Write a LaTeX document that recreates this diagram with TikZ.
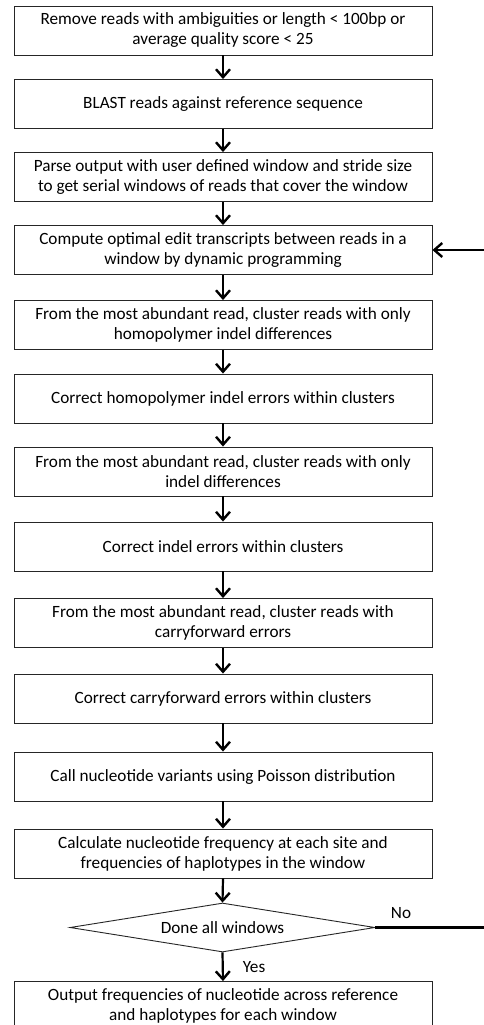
\documentclass[tikz,border=0pt]{standalone}
\usepackage{fontspec}
\setmainfont{Carlito}
\usetikzlibrary{shapes.geometric,arrows.meta}
\begin{document}
\begin{tikzpicture}[x=1pt,y=-1pt,
  box/.style={draw=black!85,line width=0.9pt,rectangle,minimum width=418pt,minimum height=49pt,
    inner sep=0pt,align=center,font=\fontsize{17.2}{20}\selectfont,fill=white},
  dec/.style={draw=black!85,line width=0.9pt,diamond,aspect=6.22,minimum width=305pt,minimum height=49pt,
    inner sep=0pt,font=\fontsize{17.2}{20}\selectfont},
  arr/.style={line width=2.2pt,-{Straight Barb[length=8pt,width=14pt,line width=2.4pt]}},
  lbl/.style={font=\fontsize{17.2}{20}\selectfont,inner sep=0pt}]
\clip (0,0) rectangle (484,1025);
\fill[white] (0,0) rectangle (484,1025);
\node[box] (b1) at (223,30.5) {Remove reads with ambiguities or length < 100bp or\\average quality score < 25};
\node[box] (b2) at (223,104) {BLAST reads against reference sequence};
\node[box] (b3) at (223,177) {Parse output with user defined window and stride size\\to get serial windows of reads that cover the window};
\node[box] (b4) at (223,250) {Compute optimal edit transcripts between reads in a\\window by dynamic programming};
\node[box] (b5) at (223,325) {From the most abundant read, cluster reads with only\\homopolymer indel differences};
\node[box] (b6) at (223,398.5) {Correct homopolymer indel errors within clusters};
\node[box] (b7) at (223,471.5) {From the most abundant read, cluster reads with only\\indel differences};
\node[box] (b8) at (223,546.5) {Correct indel errors within clusters};
\node[box] (b9) at (223,623) {From the most abundant read, cluster reads with\\carryforward errors};
\node[box] (b10) at (223,698.5) {Correct carryforward errors within clusters};
\node[box] (b11) at (223,776.5) {Call nucleotide variants using Poisson distribution};
\node[box] (b12) at (223,853.5) {Calculate nucleotide frequency at each site and\\frequencies of haplotypes in the window};
\node[dec] (d) at (222.5,927.5) {Done all windows};
\node[box] (b13) at (223,1006) {Output frequencies of nucleotide across reference\\and haplotypes for each window};
\foreach \a/\b in {b1/b2,b2/b3,b3/b4,b4/b5,b5/b6,b6/b7,b7/b8,b8/b9,b9/b10,b10/b11,b11/b12,b12/d,d/b13}
  \draw[arr] (\a.south) -- (\b.north);
\node[lbl] (yes) at (254,967) {Yes};
\node[lbl] (no) at (401,913) {No};
\coordinate (loop) at (498,927.5);
\draw[line width=2.2pt] (d.east) -- (loop);
\draw[arr] (loop) |- (b4.east);
\end{tikzpicture}
\end{document}
